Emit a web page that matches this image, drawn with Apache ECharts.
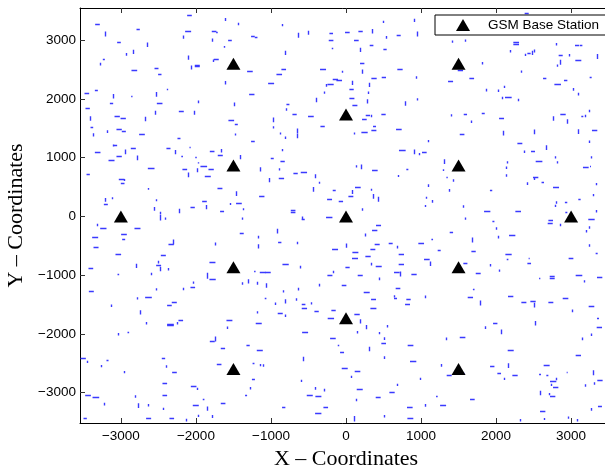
<!DOCTYPE html>
<html>
<head>
<meta charset="utf-8">
<script src="https://cdn.jsdelivr.net/npm/echarts@6/dist/echarts.min.js"></script>
<style>
  html, body { margin: 0; padding: 0; background: #fff; }
  #chart { width: 605px; height: 465px; }
</style>
</head>
<body>
<div id="chart"></div>
<script>
// ---- data ----
const xTicks = [-3000, -2000, -1000, 0, 1000, 2000, 3000];
const yTicks = [-3000, -2000, -1000, 0, 1000, 2000, 3000];

// base stations (hexagonal layout)
const stationX = [-3000, -1500, -1500, -1500, -1500, 0, 0, 0, 1500, 1500, 1500, 1500, 3000];
const stationY = [0, 2598, 866, -866, -2598, 1732, 0, -1732, 2598, 866, -866, -2598, 0];

// mobile user track steps [x1, y1, x2, y2], grouped by area
const tracksNW = [
  [-3343,3261,-3281,3261],[-3205,3147,-3205,3062],[-2792,3176,-2748,3176],[-3050,2954,-3001,2954],
  [-2646,2960,-2646,2880],[-2837,2835,-2837,2761],[-2925,2778,-2925,2733],[-3241,2676,-3214,2676],
  [-3272,2613,-3272,2568],[-2859,2494,-2783,2494],[-2552,2517,-2499,2517],[-2504,2426,-2459,2426],
  [-2117,3414,-2055,3414],[-1607,3375,-1607,3323],[-1442,3295,-1442,3250],[-2144,3153,-2064,3153],
  [-1789,3153,-1727,3153],[-1731,3130,-1709,3130],[-2166,3079,-2166,3022],[-1784,3028,-1784,2971],
  [-1571,2994,-1522,2994],[-1629,2898,-1629,2869],[-1265,3057,-1216,3057],[-2108,2738,-2108,2665],
  [-2064,2568,-2064,2500],[-2015,2579,-1949,2579],[-2015,2557,-1949,2557],[-1762,2670,-1696,2670],
  [-1771,2670,-1771,2625],[-1318,2477,-1243,2477],[-1607,2301,-1607,2244],[-3485,2091,-3423,2091],
  [-3347,2142,-3307,2142],[-3107,2080,-3107,2006],[-2863,2051,-2845,2051],[-2535,2114,-2535,2034],
  [-2388,2159,-2370,2159],[-2521,1926,-2446,1926],[-3147,1926,-3103,1926],[-3472,1847,-3414,1847],
  [-3414,1705,-3414,1625],[-3405,1512,-3369,1512],[-3365,1415,-3365,1358],[-3085,1710,-3014,1710],
  [-3005,1665,-2934,1665],[-3059,1483,-2988,1483],[-2988,1443,-2934,1443],[-3187,1466,-3187,1420],
  [-2681,1693,-2681,1619],[-2544,1795,-2544,1727],[-2757,1392,-2681,1392],[-2228,1795,-2162,1795],
  [-2024,1795,-2024,1727],[-1966,1971,-1966,1926],[-2246,1324,-2206,1324],[-2086,1182,-2070,1182],
  [-2393,1159,-2339,1159],[-2282,1131,-2282,1057],[-2195,1017,-2173,1017],[-2009,1006,-1989,1006],
  [-1975,920,-1975,900],[-1815,1114,-1753,1114],[-1656,1148,-1656,1086],[-1709,1046,-1642,1046],
  [-1567,1636,-1491,1636],[-1482,1568,-1442,1568],[-1478,1410,-1478,1375],[-1487,1937,-1487,1875],
  [-1265,1278,-1216,1278],[-1291,2085,-1220,2085],[-1403,1046,-1403,972],[-3347,1097,-3272,1097],
  [-3103,1222,-3103,1188],[-3094,1210,-3050,1210],[-2948,1137,-2948,1057],[-3059,1023,-2988,1023],
  [-3165,955,-3085,955],[-2788,1034,-2788,955],[-2868,1154,-2801,1154],[-3458,722,-3414,722],
  [-3028,637,-2952,637],[-2952,637,-2952,600],[-3001,557,-2952,557],[-2641,813,-2552,813],
  [-2637,483,-2637,455],[-3205,313,-3205,251],[-3116,324,-3116,290],[-3227,199,-3174,199],
  [-2535,290,-2535,256],[-2557,160,-2557,97],[-2481,80,-2481,40],[-2224,131,-2224,52],
  [-2180,807,-2117,807],[-2100,745,-2100,665],[-1989,819,-1989,750],[-1940,847,-1851,847],
  [-1833,807,-1762,807],[-1882,677,-1802,677],[-1713,478,-1647,478],[-1460,427,-1460,347],
  [-1465,216,-1389,216],[-1545,228,-1545,194],[-1376,137,-1376,103],[-1678,80,-1625,80],
  [-1864,194,-1864,120],[-1917,262,-1855,262],[-2073,148,-2015,148]
];
const tracksN = [
  [-1216,3051,-1180,3051],[-843,3272,-843,3233],[-643,3125,-643,3039],[-506,3159,-506,3091],
  [-221,3113,-173,3113],[-13,3125,49,3125],[165,3153,223,3153],[347,3187,347,3113],
  [498,3329,498,3290],[675,3085,729,3085],[911,3363,911,3306],[951,3147,951,3062],
  [542,3068,542,3022],[498,2841,542,2841],[316,2903,365,2903],[107,2994,169,2994],
  [-230,2994,-168,2994],[-190,2852,-170,2852],[196,2869,196,2795],[187,2602,245,2602],
  [218,2500,218,2426],[-816,2818,-816,2744],[-861,2506,-799,2506],[-927,2426,-852,2426],
  [-1038,2273,-958,2273],[-346,2511,-266,2511],[-44,2477,-44,2443],[-177,2341,-106,2341],
  [-128,2318,-53,2318],[-248,2250,-164,2250],[-261,2250,-261,2205],[80,2307,80,2233],
  [45,2170,103,2170],[316,2273,316,2199],[338,2352,409,2352],[476,2375,533,2375],
  [684,2511,755,2511],[937,2386,937,2341],[-284,2125,-284,2085],[45,2011,112,2011],
  [298,2125,298,2080],[285,1994,285,1920],[85,1892,152,1892],[-395,2017,-395,1943],
  [-794,1903,-754,1903],[-794,1840,-794,1795],[-714,1733,-657,1733],[-506,1704,-430,1704],
  [-967,1682,-967,1602],[-972,1534,-972,1494],[-874,1426,-874,1392],[-807,1358,-807,1318],
  [-652,1494,-652,1415],[-652,1409,-652,1330],[-341,1534,-283,1534],[116,1426,116,1392],
  [205,1432,289,1432],[338,1460,405,1460],[360,1528,400,1528],[263,1721,320,1721],
  [338,1727,338,1687],[214,1648,276,1648],[471,1738,529,1738],[791,1960,791,1881],
  [946,2011,946,1971],[667,1489,742,1489],[706,1125,795,1125],[915,1137,915,1057],
  [977,1080,977,1040],[1013,1091,1075,1091],[1097,1301,1097,1261],[-843,1148,-843,1108],
  [-1003,995,-963,995],[-874,938,-816,938],[-1141,835,-1141,762],[-896,819,-896,779],
  [-896,654,-825,654],[-1025,654,-1025,580],[-1158,341,-1087,341],[-701,739,-643,739],
  [-603,750,-519,750],[-412,716,-412,648],[-363,591,-363,557],[-430,500,-430,421],
  [-177,449,-137,449],[-252,296,-186,296],[-97,251,-39,251],[80,449,80,381],
  [32,336,98,336],[120,500,196,500],[134,870,134,830],[205,881,205,802],
  [347,785,422,785],[334,472,334,438],[369,381,369,302],[431,336,431,251],
  [218,137,218,97],[693,705,693,671],[804,802,831,802],[1066,336,1066,302],
  [1062,194,1062,160],[1102,545,1102,500],[-736,103,-674,103],[-736,69,-674,69]
];
const tracksNE = [
  [2381,3448,2435,3448],[1418,2994,1418,2954],[1591,3011,1591,2971],[2230,2960,2306,2960],
  [2230,2926,2306,2926],[2195,2830,2195,2790],[2390,2767,2390,2727],[2417,2767,2461,2767],
  [2484,2818,2484,2744],[2515,2841,2515,2790],[2808,2948,2808,2909],[2834,2738,2888,2738],
  [2852,2665,2852,2580],[2817,2585,2817,2545],[2972,2761,2972,2721],[3056,2653,3136,2653],
  [3052,2903,3105,2903],[3114,2903,3150,2903],[3345,2761,3345,2676],[1818,2625,1818,2585],
  [1489,2494,1560,2494],[1360,2295,1427,2295],[1644,2358,1707,2358],[2337,2483,2337,2443],
  [2626,2352,2670,2352],[2777,2250,2865,2250],[2905,2312,2950,2312],[3025,2182,3025,2136],
  [3096,2102,3096,2057],[3247,2364,3274,2364],[1871,2170,1871,2125],[2031,2159,2031,2114],
  [2111,2222,2111,2182],[2089,2034,2089,1994],[2119,2028,2208,2028],[2301,2000,2301,1960],
  [1405,1738,1405,1698],[1569,1738,1613,1738],[1667,1630,1667,1590],[1809,1750,1849,1750],
  [2040,1665,2106,1665],[2515,1477,2515,1398],[2763,1705,2763,1625],[2856,1738,2928,1738],
  [2945,1653,2945,1574],[3136,1710,3163,1710],[3194,1727,3194,1687],[3238,1812,3238,1772],
  [3092,1483,3092,1403],[3278,1460,3349,1460],[2102,1455,2102,1375],[1516,1398,1578,1398],
  [2284,1244,2350,1244],[2372,1119,2372,1080],[2466,1114,2519,1114],[2675,1210,2675,1131],
  [3247,1290,3247,1250],[2786,1023,2786,983],[2812,938,2812,898],[3274,1023,3274,983],
  [2528,932,2617,932],[2155,938,2155,898],[2142,847,2142,807],[2492,665,2563,665],
  [2515,665,2515,620],[2606,580,2639,580],[3158,830,3234,830],[3252,847,3265,847],
  [2759,489,2839,489],[2803,256,2803,216],[2917,245,2949,245],[3096,296,3127,296],
  [3301,381,3301,341],[3341,568,3341,529],[1307,972,1307,893],[1294,802,1294,773],
  [1338,659,1356,659],[1427,631,1427,591],[1378,466,1378,421],[1151,279,1151,233],
  [1564,188,1564,148],[1918,449,1949,449],[2133,716,2133,676],[1840,80,1924,80],
  [2257,80,2332,80],[2412,580,2412,534],[2790,200,2790,160],[2923,68,2950,68],
  [3336,108,3336,68]
];
const tracksSW = [
  [-2481,34,-2481,-68],[-2415,-17,-2415,-57],[-3316,-125,-3316,-170],[-3276,-210,-3192,-210],
  [-2819,-210,-2739,-210],[-3383,-352,-3303,-352],[-2997,-307,-2921,-307],[-2983,-381,-2943,-381],
  [-3365,-523,-3298,-523],[-3072,-642,-2997,-642],[-2366,-477,-2295,-477],[-2304,-392,-2304,-477],
  [-2468,-653,-2401,-653],[-2499,-755,-2499,-800],[-2530,-824,-2464,-824],[-2481,-858,-2481,-932],
  [-2375,-880,-2375,-920],[-2801,-807,-2801,-880],[-2601,-960,-2601,-1000],[-3432,-875,-3369,-875],
  [-3045,-988,-3023,-988],[-1749,-443,-1749,-494],[-1820,-784,-1740,-784],[-1847,-960,-1847,-1062],
  [-1820,-1074,-1736,-1074],[-1385,-1120,-1385,-1165],[-1305,-1068,-1305,-1142],[-1225,-926,-1205,-926],
  [-1389,-17,-1389,-57],[-1416,-284,-1363,-284],[-2033,-1108,-2033,-1148],[-2073,-1210,-2011,-1210],
  [-2166,-1216,-2166,-1256],[-3427,-1273,-3361,-1273],[-2788,-1375,-2788,-1415],[-2677,-1381,-2588,-1381],
  [-2530,-1222,-2530,-1262],[-2322,-1454,-2255,-1454],[-2384,-1517,-2322,-1517],[-3125,-1500,-3125,-1540],
  [-2739,-1596,-2739,-1670],[-2659,-1795,-2659,-1840],[-2384,-1841,-2295,-1841],[-2384,-1858,-2295,-1858],
  [-2255,-1795,-2255,-1840],[-2233,-1761,-2171,-1761],[-1593,-1761,-1514,-1761],[-1585,-1875,-1585,-1915],
  [-3036,-1983,-3036,-2028],[-2912,-1965,-2890,-1965],[-3538,-2420,-3467,-2420],[-3449,-2454,-3449,-2494],
  [-3267,-2528,-3267,-2568],[-3192,-2448,-3165,-2448],[-2956,-2630,-2956,-2670],[-2455,-2420,-2410,-2420],
  [-2401,-2534,-2401,-2574],[-2317,-2647,-2255,-2647],[-1815,-2125,-1749,-2125],[-1749,-2045,-1749,-2130],
  [-1669,-2238,-1611,-2238],[-1327,-2193,-1283,-2193],[-1245,-2505,-1220,-2505],[-1722,-2522,-1660,-2522],
  [-1520,-2664,-1450,-2664],[-1254,-2766,-1214,-2766],[-1274,-2903,-1274,-2943],[-3476,-3039,-3400,-3039],
  [-3378,-3079,-3289,-3079],[-3227,-3170,-3227,-3216],[-2814,-3045,-2814,-3085],[-2766,-3181,-2766,-3261],
  [-2641,-3193,-2641,-3233],[-2446,-3051,-2384,-3051],[-2446,-2834,-2384,-2834],[-2068,-2891,-1993,-2891],
  [-1980,-2914,-1980,-2954],[-2042,-3216,-1962,-3216],[-1846,-3233,-1846,-3306],[-1909,-3113,-1887,-3113],
  [-1669,-3187,-1607,-3187],[-1345,-3039,-1318,-3039],[-3498,-3431,-3454,-3431],[-2664,-3431,-2597,-3431],
  [-2353,-3442,-2291,-3442],[-2135,-3442,-2135,-3488],[-1975,-3374,-1975,-3414],[-1789,-3380,-1789,-3431],
  [-2437,-3255,-2437,-3295]
];
const tracksS = [
  [-581,0,-581,-57],[-590,-45,-550,-45],[-266,-23,-181,-23],[-914,-210,-914,-290],
  [-1163,-330,-1163,-375],[-1163,-472,-1163,-545],[-905,-432,-861,-432],[-652,-432,-652,-472],
  [-186,-557,-106,-557],[5,-460,5,-534],[85,-602,165,-602],[80,-710,160,-710],
  [258,-676,329,-676],[325,-557,391,-557],[342,-789,342,-835],[396,-852,476,-852],
  [400,-153,467,-153],[347,-239,418,-239],[263,-290,263,-341],[382,-472,449,-472],
  [569,-460,622,-460],[684,-500,684,-545],[702,-636,773,-636],[702,-807,773,-807],
  [964,-460,1040,-460],[1040,-727,1115,-727],[871,-977,942,-977],[640,-954,715,-954],
  [720,-937,720,-1023],[662,-1227,724,-1227],[644,-1341,644,-1381],[640,-1398,680,-1398],
  [804,-1409,862,-1409],[787,-1500,853,-1500],[1053,-1347,1053,-1392],[-1180,-1114,-1180,-1165],
  [-1061,-1136,-1061,-1216],[-1149,-943,-1065,-943],[-1074,-954,-1003,-954],[-847,-812,-763,-812],
  [-612,-841,-612,-886],[-359,-1148,-359,-1193],[-172,-926,-172,-966],[-248,-994,-181,-994],
  [-8,-864,49,-864],[156,-1006,223,-1006],[444,-1040,444,-1085],[-57,-1165,5,-1165],
  [236,-1284,316,-1284],[334,-1415,400,-1415],[325,-1562,405,-1562],[-634,-1216,-634,-1261],
  [-834,-1256,-834,-1296],[-1083,-1398,-1061,-1398],[-945,-1466,-945,-1506],[-816,-1409,-816,-1483],
  [-661,-1392,-661,-1437],[-590,-1494,-541,-1494],[-590,-1562,-519,-1562],[-461,-1460,-461,-1500],
  [-421,-1619,-363,-1619],[-195,-1596,-137,-1596],[-244,-1732,-159,-1732],[111,-1659,183,-1659],
  [187,-1749,187,-1823],[276,-1846,276,-1920],[449,-1965,449,-2005],[551,-1846,551,-1891],
  [-910,-1647,-843,-1647],[-812,-1670,-812,-1710],[-1185,-1613,-1185,-1653],[-1203,-1818,-1123,-1818],
  [-585,-1977,-505,-1977],[-1189,-2278,-1109,-2278],[-1149,-2511,-1149,-2551],[-1105,-2517,-1105,-2557],
  [-572,-2386,-572,-2465],[-212,-2079,-137,-2079],[-110,-2187,-90,-2187],[-79,-2306,-26,-2306],
  [316,-2216,316,-2295],[511,-2057,511,-2102],[471,-2165,533,-2165],[511,-2380,511,-2426],
  [822,-2199,898,-2199],[853,-2471,937,-2471],[-57,-2591,23,-2591],[116,-2636,191,-2636],
  [76,-2710,76,-2750],[986,-2744,986,-2784],[689,-2846,689,-2886],[-603,-2778,-603,-2818],
  [-293,-2932,-293,-2977],[-412,-2903,-412,-2948],[-523,-3045,-443,-3045],[-408,-3056,-328,-3056],
  [143,-2943,223,-2943],[134,-3102,134,-3147],[396,-3073,462,-3073],[578,-2988,649,-2988],
  [813,-3250,888,-3250],[1062,-3193,1062,-3238],[818,-3431,897,-3431],[511,-3380,511,-3420],
  [111,-3397,111,-3488],[-412,-3351,-328,-3351],[-301,-3244,-239,-3244],[-852,-3244,-808,-3244],
  [147,-1948,147,-1993]
];
const tracksSE = [
  [1591,-17,1591,-57],[1951,-91,1978,-91],[2009,-187,2009,-227],[1382,-267,1427,-267],
  [1684,-358,1684,-443],[2031,-330,2031,-375],[2173,-318,2257,-318],[2697,-68,2759,-68],
  [2688,-119,2755,-119],[2861,-125,2861,-170],[3229,-51,3314,-51],[3247,-170,3247,-210],
  [3203,-233,3203,-273],[1138,-392,1160,-392],[1222,-568,1262,-568],[1129,-767,1129,-846],
  [1564,-790,1618,-790],[1671,-591,1729,-591],[1924,-812,1924,-852],[2044,-903,2044,-943],
  [1729,-971,1795,-971],[2124,-648,2208,-648],[2142,-727,2164,-727],[2434,-704,2448,-704],
  [2417,-801,2466,-801],[2573,-1045,2590,-1045],[2715,-1017,2781,-1017],[2715,-1051,2781,-1051],
  [2967,-704,3030,-704],[3061,-1000,3149,-1000],[3172,-1085,3172,-1125],[3327,-619,3354,-619],
  [3345,-1028,3416,-1028],[3238,-472,3238,-517],[1691,-1244,1713,-1244],[1622,-1369,1693,-1369],
  [1787,-1432,1787,-1517],[2159,-1352,2230,-1352],[2337,-1466,2404,-1466],[2457,-1443,2528,-1443],
  [2515,-1471,2515,-1551],[2697,-1466,2763,-1466],[2888,-1392,2963,-1392],[3234,-1534,3309,-1534],
  [3021,-1585,3021,-1630],[3345,-1727,3372,-1727],[3341,-1892,3412,-1892],[3265,-1994,3265,-2034],
  [3154,-2062,3154,-2108],[3061,-2357,3132,-2357],[2519,-1778,2519,-1858],[1960,-1823,2018,-1823],
  [1862,-1869,1862,-1914],[2071,-1926,2071,-2005],[1516,-2062,1591,-2062],[1338,-2062,1338,-2108],
  [2155,-2272,2235,-2272],[1342,-2698,1409,-2698],[1276,-2511,1276,-2556],[1920,-2551,1978,-2551],
  [2017,-2670,2066,-2670],[2111,-2744,2111,-2784],[2164,-2499,2164,-2579],[2217,-2698,2288,-2698],
  [2634,-2528,2714,-2528],[2573,-2681,2599,-2681],[2670,-2698,2697,-2698],[2719,-2800,2803,-2800],
  [2737,-2846,2737,-2886],[2803,-2744,2803,-2789],[2759,-2914,2830,-2914],[2941,-2647,2954,-2647],
  [3194,-2857,3194,-2897],[3292,-2619,3292,-2704],[3310,-2823,3310,-2863],[3349,-2783,3420,-2783],
  [2715,-3005,2715,-3045],[2719,-3068,2790,-3068],[2590,-2965,2590,-3045],[1653,-3113,1715,-3113],
  [1200,-3068,1222,-3068],[1254,-3215,1334,-3215],[2586,-3318,2657,-3318],[2643,-3431,2643,-3465],
  [2319,-3448,2319,-3488],[2963,-3403,2963,-3443],[3087,-3448,3087,-3488],[3274,-3261,3274,-3306],
  [3358,-3227,3411,-3227],[1520,-2664,1580,-2664]
];

// ---- chart ----
const X_MIN = -3545, X_MAX = 3545, Y_MIN = -3515, Y_MAX = 3545;
const SANS = '"Liberation Sans", Arial, Helvetica, sans-serif';
const SERIF = '"Liberation Serif", "Times New Roman", serif';
const fmtTick = v => (v < 0 ? '\u2212' + Math.abs(v) : String(v));

const allTracks = [].concat(tracksNW, tracksN, tracksNE, tracksSW, tracksS, tracksSE);

function axisBase(ticks) {
  return {
    type: 'value',
    axisLine: { show: true, onZero: false, lineStyle: { color: '#000', width: 1 } },
    axisTick: { show: true, inside: true, length: 5, customValues: ticks, lineStyle: { color: '#333', width: 1 } },
    splitLine: { show: false },
  };
}

const chart = echarts.init(document.getElementById('chart'), null, { renderer: 'canvas' });
chart.setOption({
  animation: false,
  backgroundColor: '#fff',
  // plot box runs past the right edge of the picture, as in the original crop
  grid: { left: 80, top: 8, width: 532, height: 415, outerBoundsMode: 'none', containLabel: false },
  legend: {
    data: [{ name: 'GSM Base Station', icon: 'triangle' }],
    left: 435, top: 15,
    padding: [3, 10, 3, 21],
    itemWidth: 14, itemHeight: 12,
    borderColor: '#000', borderWidth: 1, borderRadius: 0,
    backgroundColor: '#fff',
    selectedMode: false,
    itemStyle: { opacity: 1 },
    textStyle: { fontFamily: SANS, fontSize: 13.5, color: '#000', padding: [0, 0, 0, 13] },
  },
  xAxis: [
    Object.assign(axisBase(xTicks), {
      min: X_MIN, max: X_MAX, position: 'bottom',
      axisLabel: { customValues: xTicks, formatter: fmtTick, margin: 6,
        fontFamily: SANS, fontSize: 13.5, color: '#000' },
      name: 'X \u2013 Coordinates', nameLocation: 'middle', nameGap: 15,
      nameTextStyle: { fontFamily: SERIF, fontSize: 22, color: '#000' },
    }),
    Object.assign(axisBase(xTicks), {
      min: X_MIN, max: X_MAX, position: 'top', axisLabel: { show: false },
    }),
  ],
  yAxis: [
    Object.assign(axisBase(yTicks), {
      min: Y_MIN, max: Y_MAX, position: 'left',
      axisLabel: { customValues: yTicks, formatter: fmtTick, margin: 4,
        fontFamily: SANS, fontSize: 13.5, color: '#000' },
      name: 'Y \u2013 Coordinates', nameLocation: 'middle', nameGap: 45,
      nameTextStyle: { fontFamily: SERIF, fontSize: 22, color: '#000' },
    }),
    Object.assign(axisBase(yTicks), {
      min: Y_MIN, max: Y_MAX, position: 'right', axisLabel: { show: false },
    }),
  ],
  series: [
    {
      name: 'tracks',
      type: 'lines',
      coordinateSystem: 'cartesian2d',
      xAxisIndex: 0, yAxisIndex: 0,
      silent: true,
      z: 1,
      lineStyle: { color: '#3a3aff', width: 1.4, opacity: 1, curveness: 0 },
      data: allTracks.map(s => ({ coords: [[s[0], s[1]], [s[2], s[3]]] })),
    },
    {
      name: 'GSM Base Station',
      type: 'scatter',
      xAxisIndex: 0, yAxisIndex: 0,
      symbol: 'triangle',
      symbolSize: [14, 12],
      itemStyle: { color: '#000', opacity: 1 },
      z: 3,
      data: stationX.map((x, i) => [x, stationY[i]]),
    },
  ],
});
</script>
</body>
</html>
